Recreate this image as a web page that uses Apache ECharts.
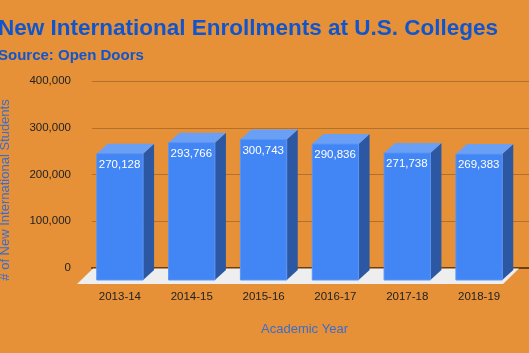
<!DOCTYPE html>
<html><head><meta charset="utf-8">
<script src="https://cdn.jsdelivr.net/npm/echarts@6/dist/echarts.min.js"></script>
<style>html,body{margin:0;padding:0;background:#E69138;overflow:hidden}#c{width:529px;height:353px;}</style>
</head><body><div id="c"></div>
<script>
const categories = ['2013-14', '2014-15', '2015-16', '2016-17', '2017-18', '2018-19'];
const enrollments = [270128, 293766, 300743, 290836, 271738, 269383];
const yTicks = [0, 100000, 200000, 300000, 400000];
const titleText = 'New International Enrollments at U.S. Colleges';
const subtitleText = 'Source: Open Doors';
const xName = 'Academic Year';
const yName = '# of New International Students';

const FONT = '"Liberation Sans", Arial, sans-serif';
const yMin = yTicks[0], yMax = yTicks[yTicks.length - 1], yStep = yTicks[1] - yTicks[0];
const fmt = v => v.toLocaleString('en-US');

function renderFloor(params, api) {
  const cs = params.coordSys;
  const yb = cs.y + cs.height + 4;
  const yt = yb - 15.5;
  const bl = cs.x - 7, br = cs.x + cs.width - 12;
  const d = 16;
  return {
    type: 'polygon',
    shape: { points: [[bl, yb], [br, yb], [br + d, yt], [bl + d, yt]] },
    style: { fill: '#eeeeee' }
  };
}

function renderBar(params, api) {
  const i = api.value(0), v = api.value(1);
  const base = api.coord([i, 0]);
  const top = api.coord([i, v]);
  const band = api.size([1, 0])[0];
  const w = band * 0.645;
  const xl = base[0] - w / 2, xr = base[0] + w / 2;
  const yb = base[1], yt = top[1];
  const dx = 11, dy = -10;
  return {
    type: 'group',
    children: [
      { type: 'polygon', shape: { points: [[xr, yt], [xr + dx, yt + dy], [xr + dx, yb + dy], [xr, yb]] }, style: { fill: '#2b57a3' } },
      { type: 'polygon', shape: { points: [[xl, yt], [xr, yt], [xr + dx, yt + dy], [xl + dx, yt + dy]] }, style: { fill: '#6a9ff6' } },
      { type: 'rect', shape: { x: xl, y: yt, width: w, height: yb - yt }, style: { fill: '#4285f4', stroke: '#5b95f5', lineWidth: 1 } },
      { type: 'text', x: xl + 2, y: yt + 5, style: { text: fmt(v), fill: '#ffffff', fontSize: 11.5, fontFamily: FONT, verticalAlign: 'top', align: 'left' } }
    ]
  };
}

const chart = echarts.init(document.getElementById('c'));
chart.setOption({
  backgroundColor: '#E69138',
  animation: false,
  title: [
    { text: titleText, left: -2, top: 17, padding: 0,
      textStyle: { fontSize: 22.5, fontWeight: 'bold', color: '#1155cc', fontFamily: FONT } },
    { text: subtitleText, left: -2, top: 48, padding: 0,
      textStyle: { fontSize: 15, fontWeight: 'bold', color: '#1155cc', fontFamily: FONT } }
  ],
  grid: [
    { left: 84, right: 14, top: 93, bottom: 73, containLabel: false, outerBoundsMode: 'none' },
    { left: 92, right: 0, top: 81, bottom: 85, containLabel: false, outerBoundsMode: 'none' }
  ],
  xAxis: [
    { type: 'category', gridIndex: 0, data: categories,
      axisLine: { show: false }, axisTick: { show: false },
      axisLabel: { margin: 11, fontSize: 11.5, color: '#222222', fontFamily: FONT },
      name: xName, nameLocation: 'middle', nameGap: 43,
      nameTextStyle: { fontSize: 13, color: '#3d6cc9', fontFamily: FONT, padding: [0, 0, 0, 10] } },
    { type: 'category', gridIndex: 1, data: categories,
      axisLine: { show: true, lineStyle: { color: '#6b3f14', width: 2 } },
      axisTick: { show: false }, axisLabel: { show: false } }
  ],
  yAxis: [
    { type: 'value', gridIndex: 0, min: yMin, max: yMax, interval: yStep,
      axisLine: { show: false }, axisTick: { show: false }, axisLabel: { show: false },
      splitLine: { show: false },
      name: yName, nameLocation: 'middle', nameGap: 72, nameRotate: 90,
      nameTextStyle: { fontSize: 13, color: '#3d6cc9', fontFamily: FONT, padding: [0, 7, 0, 0] } },
    { type: 'value', gridIndex: 1, min: yMin, max: yMax, interval: yStep,
      axisLine: { show: false }, axisTick: { show: false },
      axisLabel: { margin: 21, fontSize: 11.5, color: '#222222', fontFamily: FONT, formatter: v => fmt(v) },
      splitLine: { show: true, lineStyle: { color: '#b36f2c', width: 1 } } }
  ],
  series: [
    { type: 'custom', name: 'floor', xAxisIndex: 0, yAxisIndex: 0, z: 2,
      data: [[0, 0]], renderItem: renderFloor, silent: true },
    { type: 'custom', name: 'enrollments', xAxisIndex: 0, yAxisIndex: 0, z: 3,
      data: categories.map((c, i) => [i, enrollments[i]]),
      encode: { x: 0, y: 1 }, renderItem: renderBar }
  ]
});
</script>
</body></html>
